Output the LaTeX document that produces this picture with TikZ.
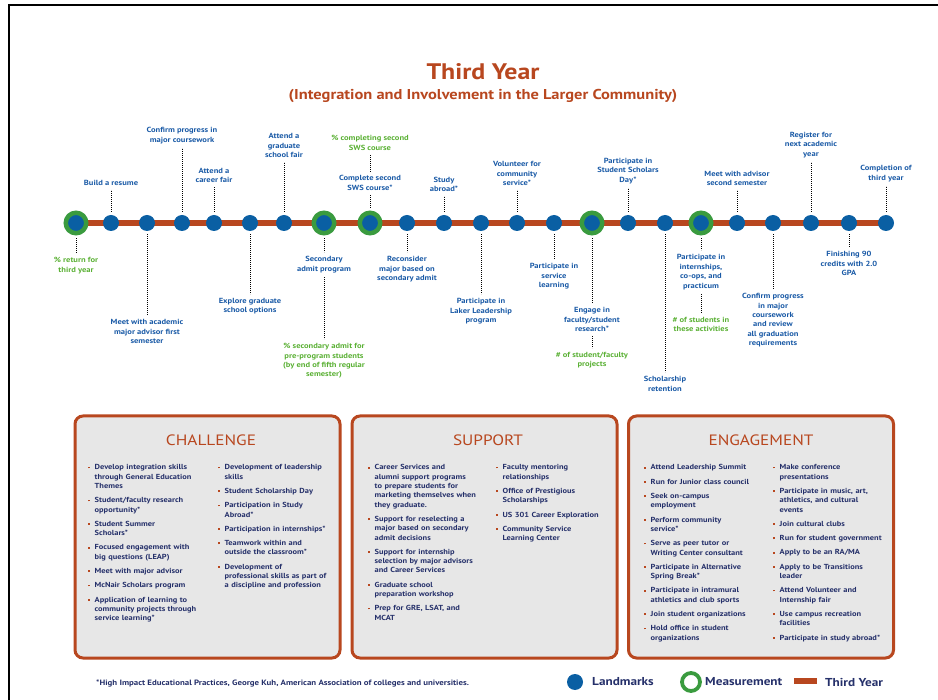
\documentclass[tikz,border=0pt]{standalone}
\usepackage{fontspec}
\setmainfont[FakeStretch=1.15]{PT Sans}
\usetikzlibrary{positioning,backgrounds}

\definecolor{rust}{HTML}{B8471F}
\definecolor{tblue}{HTML}{0A5FA3}
\definecolor{lblue}{HTML}{1A5AA6}
\definecolor{mgreen}{HTML}{3A9B3F}
\definecolor{tgreen}{HTML}{5AB034}
\definecolor{navy}{HTML}{25306A}
\definecolor{panelgray}{HTML}{E7E7E7}

% one bullet item in a panel column
\newcommand{\bitm}[1]{\begingroup\let\\\newline
  \noindent\hangindent=6.5pt\hangafter=1%
  \makebox[6.5pt][l]{\textcolor{rust}{\rule[1.4pt]{1.8pt}{1.8pt}}}#1\par\endgroup\vspace{5pt}}

\begin{document}
\begin{tikzpicture}[x=1pt,y=-1pt]
  \tikzstyle{landmark}=[circle,fill=tblue,minimum size=16pt,inner sep=0pt]
  \tikzstyle{measure}=[circle,fill=tblue,draw=mgreen,line width=4.5pt,minimum size=20.5pt,inner sep=0pt]
  \tikzstyle{lbl}=[align=center,inner sep=1pt,text=lblue,font=\fontsize{7.4}{9.4}\selectfont\bfseries]
  \tikzstyle{glbl}=[lbl,text=tgreen]
  \tikzstyle{dotline}=[line width=0.8pt,dash pattern=on 0.8pt off 1.2pt,shorten <=3pt,shorten >=3pt]
  \tikzstyle{panel}=[draw=rust,line width=3pt,fill=panelgray,rounded corners=8pt,minimum width=265pt,minimum height=242pt]
  \tikzstyle{head}=[text=rust,font=\fontsize{15}{17}\selectfont]
  \tikzstyle{col}=[anchor=north west,inner sep=0pt,align=left,text=navy,font=\fontsize{7.3}{9.3}\selectfont\bfseries]
  \tikzstyle{legtxt}=[anchor=west,inner sep=0pt,text=navy,font=\fontsize{11.5}{13}\selectfont\bfseries]

  \useasboundingbox (0,0) rectangle (938,700);
  \draw[line width=2.5pt] (9,700) -- (9,5) -- (938,5);

  \node[text=rust,font=\fontsize{22.5}{25}\selectfont\bfseries] (title) at (483,72) {Third Year};
  \node[text=rust,font=\fontsize{14.3}{16}\selectfont\bfseries] (subtitle) at (483,96)
    {(Integration and Involvement in the Larger Community)};

  % timeline
  \foreach \i/\x/\s in {1/76/measure,2/111/landmark,3/147/landmark,4/182/landmark,
      5/214/landmark,6/250/landmark,7/284/landmark,8/324/measure,9/370/measure,
      10/407/landmark,11/444/landmark,12/481/landmark,13/517/landmark,14/554/landmark,
      15/592/measure,16/628/landmark,17/665/landmark,18/701/measure,19/737/landmark,
      20/773/landmark,21/811/landmark,22/849/landmark,23/886/landmark}
    \node[\s] (n\i) at (\x,223) {};
  \begin{scope}[on background layer]
    \draw[rust,line width=6.5pt] (n1.center) -- (n23.center);
  \end{scope}

  % above the line
  \node[lbl, above=28pt of n2] (a2) {Build a resume};
  \node[lbl, above=70pt of n4] (a4) {Confirm progress in\\major coursework};
  \node[lbl, above=31pt of n5] (a5) {Attend a\\career fair};
  \node[lbl, above=56pt of n7] (a7) {Attend a\\graduate\\school fair};
  \node[lbl, above=19pt of n9] (a9) {Complete second\\SWS course*};
  \node[glbl, above=23pt of a9] (g9) {\% completing second\\SWS course};
  \node[lbl, above=22pt of n11] (a11) {Study\\abroad*};
  \node[lbl, above=28pt of n13] (a13) {Volunteer for\\community\\service*};
  \node[lbl, above=30pt of n16] (a16) {Participate in\\Student Scholars\\Day*};
  \node[lbl, above=28pt of n19] (a19) {Meet with advisor\\second semester};
  \node[lbl, above=56pt of n21] (a21) {Register for\\next academic\\year};
  \node[lbl, above=32pt of n23] (a23) {Completion of\\third year};

  % below the line
  \node[glbl, below=21pt of n1] (b1) {\% return for\\third year};
  \node[lbl, below=87pt of n3] (b3) {Meet with academic\\major advisor first\\semester};
  \node[lbl, below=66pt of n6] (b6) {Explore graduate\\school options};
  \node[lbl, below=20pt of n8] (b8) {Secondary\\admit program};
  \node[glbl, below=68pt of b8] (g8) {\% secondary admit for\\pre-program students\\(by end of fifth regular\\semester)};
  \node[lbl, below=24pt of n10] (b10) {Reconsider\\major based on\\secondary admit};
  \node[lbl, below=66pt of n12] (b12) {Participate in\\Laker Leadership\\program};
  \node[lbl, below=31pt of n14] (b14) {Participate in\\service\\learning};
  \node[lbl, below=71pt of n15] (b15) {Engage in\\faculty/student\\research*};
  \node[glbl, below=18pt of b15] (g15) {\# of student/faculty\\projects};
  \node[lbl, below=144pt of n17] (b17) {Scholarship\\retention};
  \node[lbl, below=18pt of n18] (b18) {Participate in\\internships,\\co-ops, and\\practicum};
  \node[glbl, below=25pt of b18] (g18) {\# of students in\\these activities};
  \node[lbl, below=61pt of n20] (b20) {Confirm progress\\in major\\coursework\\and review\\all graduation\\requirements};
  \node[lbl, below=19pt of n22] (b22) {Finishing 90\\credits with 2.0\\GPA};

  \foreach \a/\b in {n2/a2,n4/a4,n5/a5,n7/a7,n9/a9,a9/g9,n11/a11,n13/a13,n16/a16,
      n19/a19,n21/a21,n23/a23,n1/b1,n3/b3,n6/b6,n8/b8,b8/g8,n10/b10,n12/b12,
      n14/b14,n15/b15,b15/g15,n17/b17,n18/b18,b18/g18,n20/b20,n22/b22}
    \draw[dotline] (\a) -- (\b);

  % panels
  \node[panel] (chal) at (207.5,537) {};
  \node[panel] (supp) at (484.5,537) {};
  \node[panel] (enga) at (761,537) {};
  \node[head] (chalh) at (211,440) {CHALLENGE};
  \node[head] (supph) at (488,440) {SUPPORT};
  \node[head] (engah) at (761,440) {ENGAGEMENT};

  \node[col, text width=122pt] (chal1) at (88,464.5) {%
    \bitm{Develop integration skills\\through General Education\\Themes}
    \bitm{Student/faculty research\\opportunity*}
    \bitm{Student Summer\\Scholars*}
    \bitm{Focused engagement with\\big questions (LEAP)}
    \bitm{Meet with major advisor}
    \bitm{McNair Scholars program}
    \bitm{Application of learning to\\community projects through\\service learning*}};
  \node[col, text width=118pt] (chal2) at (218,464.5) {%
    \bitm{Development of leadership\\skills}
    \bitm{Student Scholarship Day}
    \bitm{Participation in Study\\Abroad*}
    \bitm{Participation in internships*}
    \bitm{Teamwork within and\\outside the classroom*}
    \bitm{Development of\\professional skills as part of\\a discipline and profession}};

  \node[col, text width=124pt] (supp1) at (368,464.5) {%
    \bitm{Career Services and\\alumni support programs\\to prepare students for\\marketing themselves when\\they graduate.}
    \bitm{Support for reselecting a\\major based on secondary\\admit decisions}
    \bitm{Support for internship\\selection by major advisors\\and Career Services}
    \bitm{Graduate school\\preparation workshop}
    \bitm{Prep for GRE, LSAT, and\\MCAT}};
  \node[col, text width=116pt] (supp2) at (496,464.5) {%
    \bitm{Faculty mentoring\\relationships}
    \bitm{Office of Prestigious\\Scholarships}
    \bitm{US 301 Career Exploration}
    \bitm{Community Service\\Learning Center}};

  \node[col, text width=126pt] (enga1) at (644,464.5) {%
    \bitm{Attend Leadership Summit}
    \bitm{Run for Junior class council}
    \bitm{Seek on-campus\\employment}
    \bitm{Perform community\\service*}
    \bitm{Serve as peer tutor or\\Writing Center consultant}
    \bitm{Participate in Alternative\\Spring Break*}
    \bitm{Participate in intramural\\athletics and club sports}
    \bitm{Join student organizations}
    \bitm{Hold office in student\\organizations}};
  \node[col, text width=116pt] (enga2) at (773,464.5) {%
    \bitm{Make conference\\presentations}
    \bitm{Participate in music, art,\\athletics, and cultural\\events}
    \bitm{Join cultural clubs}
    \bitm{Run for student government}
    \bitm{Apply to be an RA/MA}
    \bitm{Apply to be Transitions\\leader}
    \bitm{Attend Volunteer and\\Internship fair}
    \bitm{Use campus recreation\\facilities}
    \bitm{Participate in study abroad*}};

  % footnote and legend
  \node[anchor=west,inner sep=0pt,text=navy,font=\fontsize{7.7}{9}\selectfont\bfseries] (note) at (96,684)
    {*High Impact Educational Practices, George Kuh, American Association of colleges and universities.};
  \node[landmark] (lg1) at (575,682) {};
  \node[legtxt] (lt1) at (592,682) {Landmarks};
  \node[measure,fill=white,line width=3.8pt,minimum size=18pt] (lg2) at (691,682) {};
  \node[legtxt] (lt2) at (705,682) {Measurement};
  \node[fill=rust,minimum width=23pt,minimum height=6pt,inner sep=0pt] (lg3) at (805,681) {};
  \node[legtxt] (lt3) at (825,682) {Third Year};
\end{tikzpicture}
\end{document}
